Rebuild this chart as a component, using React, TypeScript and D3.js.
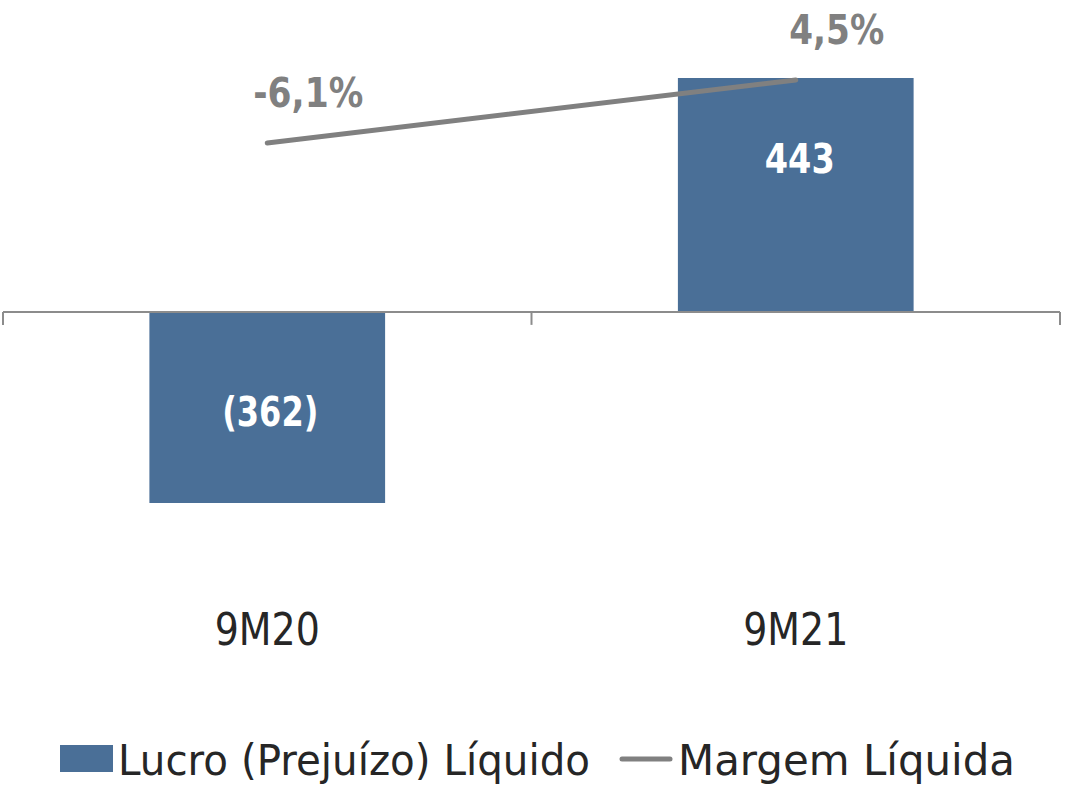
import React from "react";
import * as d3 from "d3";

const categories = ["9M20", "9M21"];
const lucro = [-362, 443];
const lucroLabels = ["(362)", "443"];
const margem = [-6.1, 4.5];
const margemLabels = ["-6,1%", "4,5%"];
const legendLabels = ["Lucro (Prejuízo) Líquido", "Margem Líquida"];

const W = 1066;
const H = 785;
const BAR = "#4a6f97";
const GRAY = "#808080";
const FONT = "'DejaVu Sans', sans-serif";

export default function App() {
  const x = d3.scaleBand<string>().domain(categories).range([3, 1060]).padding(0);
  const barW = x.bandwidth() * 0.446;
  const y = d3.scaleLinear().domain([-362, 443]).range([503, 78]);
  const y2 = d3.scaleLinear().domain([-6.1, 4.5]).range([143, 80]);
  const cx = (c: string) => (x(c) as number) + x.bandwidth() / 2;

  const line = d3
    .line<number>()
    .x((_, i) => cx(categories[i]))
    .y((d) => y2(d));

  const y0 = y(0);
  return (
    <div style={{ position: "absolute", left: 0, top: 0 }}>
      <svg width={W} height={H} style={{ display: "block" }}>
        <rect width={W} height={H} fill="#fff" />
        {lucro.map((v, i) => {
          const c = categories[i];
          const top = Math.min(y(v), y0);
          const h = Math.abs(y(v) - y0);
          const ly = v >= 0 ? top + 95 : top + h / 2 + 19;
          return (
            <g key={c}>
              <rect x={cx(c) - barW / 2} y={top} width={barW} height={h} fill={BAR} />
              <text
                x={cx(c) + (v >= 0 ? 4 : 3)}
                y={ly}
                textAnchor="middle"
                fill="#fff"
                fontFamily={FONT}
                fontWeight="bold"
                fontSize={41}
                textLength={i === 0 ? 96 : 70}
                lengthAdjust="spacingAndGlyphs"
              >
                {lucroLabels[i]}
              </text>
            </g>
          );
        })}
        {/* axis */}
        <line x1={3} x2={1060} y1={y0} y2={y0} stroke="#8c8c8c" strokeWidth={2} />
        {[3, ...categories.map((c) => (x(c) as number) + x.bandwidth())].map((t, i) => (
          <line key={i} x1={t} x2={t} y1={y0} y2={y0 + 13} stroke="#8c8c8c" strokeWidth={2} />
        ))}
        {/* line */}
        <path d={line(margem) as string} fill="none" stroke={GRAY} strokeWidth={5} strokeLinecap="round" />
        {margem.map((v, i) => (
          <text
            key={i}
            x={cx(categories[i]) + 41}
            y={y2(v) - 36}
            textAnchor="middle"
            fill={GRAY}
            fontFamily={FONT}
            fontWeight="bold"
            fontSize={41}
            textLength={i === 0 ? 110 : 95}
            lengthAdjust="spacingAndGlyphs"
          >
            {margemLabels[i]}
          </text>
        ))}
        {categories.map((c) => (
          <text
            key={c}
            x={cx(c)}
            y={645}
            textAnchor="middle"
            fill="#262626"
            fontFamily={FONT}
            fontSize={44}
            textLength={105}
            lengthAdjust="spacingAndGlyphs"
          >
            {c}
          </text>
        ))}
        {/* legend */}
        <rect x={60} y={745} width={53} height={27} fill={BAR} />
        <text x={118} y={775} fill="#262626" fontFamily={FONT} fontSize={43} textLength={472} lengthAdjust="spacingAndGlyphs">
          {legendLabels[0]}
        </text>
        <line x1={622} x2={670} y1={759} y2={759} stroke={GRAY} strokeWidth={5} strokeLinecap="round" />
        <text x={678} y={775} fill="#262626" fontFamily={FONT} fontSize={43} textLength={337} lengthAdjust="spacingAndGlyphs">
          {legendLabels[1]}
        </text>
      </svg>
    </div>
  );
}
